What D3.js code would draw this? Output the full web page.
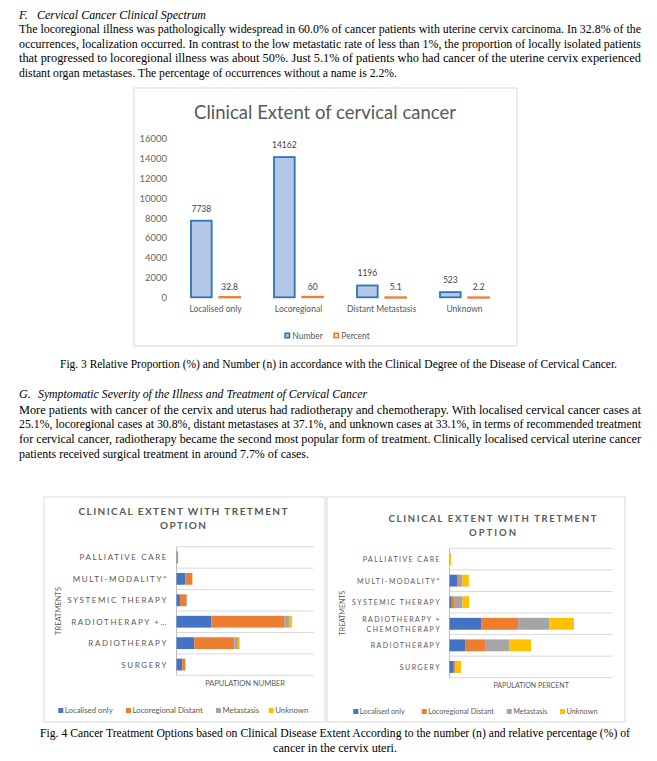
<!DOCTYPE html>
<html><head><meta charset="utf-8">
<script src="https://cdn.jsdelivr.net/npm/d3@7"></script>
<style>body{margin:0;background:#fff;} svg{display:block;}</style>
</head><body>
<script>
// ---------------- data ----------------
const headingF = ["F.", "Cervical Cancer Clinical Spectrum"];
const para1 = [
  "The locoregional illness was pathologically widespread in 60.0% of cancer patients with uterine cervix carcinoma. In 32.8% of the",
  "occurrences, localization occurred. In contrast to the low metastatic rate of less than 1%, the proportion of locally isolated patients",
  "that progressed to locoregional illness was about 50%. Just 5.1% of patients who had cancer of the uterine cervix experienced",
  "distant organ metastases. The percentage of occurrences without a name is 2.2%."
];
const fig3Caption = "Fig. 3 Relative Proportion (%) and Number (n) in accordance with the Clinical Degree of the Disease of Cervical Cancer.";
const headingG = ["G.", "Symptomatic Severity of the Illness and Treatment of Cervical Cancer"];
const para2 = [
  "More patients with cancer of the cervix and uterus had radiotherapy and chemotherapy. With localised cervical cancer cases at",
  "25.1%, locoregional cases at 30.8%, distant metastases at 37.1%, and unknown cases at 33.1%, in terms of recommended treatment",
  "for cervical cancer, radiotherapy became the second most popular form of treatment. Clinically localised cervical uterine cancer",
  "patients received surgical treatment in around 7.7% of cases."
];
const fig4Caption = [
  "Fig. 4 Cancer Treatment Options based on Clinical Disease Extent According to the number (n) and relative percentage (%) of",
  "cancer in the cervix uteri."
];

const extentTitle = "Clinical Extent of cervical cancer";
const extentCategories = ["Localised only", "Locoregional", "Distant Metastasis", "Unknown"];
const extentSeries = ["Number", "Percent"];
const extentNumber = [7738, 14162, 1196, 523];
const extentPercent = [32.8, 60, 5.1, 2.2];
const extentTicks = [0, 2000, 4000, 6000, 8000, 10000, 12000, 14000, 16000];

const stackTitle = ["CLINICAL EXTENT WITH TRETMENT", "OPTION"];
const treatments = ["PALLIATIVE CARE", "MULTI-MODALITY*", "SYSTEMIC THERAPY", "RADIOTHERAPY + CHEMOTHERAPY", "RADIOTHERAPY", "SURGERY"];
const stackSeries = ["Localised only", "Locoregional Distant", "Metastasis", "Unknown"];
// population number (left chart)
const numLocalised     = [15, 500, 190, 1942, 982, 316];
const numLocoregional  = [65, 372, 350, 4050, 2220, 166];
const numMetastasis    = [5, 8, 40, 278, 205, 5];
const numUnknown       = [5, 15, 15, 133, 90, 10];
// population percent (right chart)
const pctLocalised     = [0, 6.4, 1.8, 25.2, 12.4, 3.4];
const pctLocoregional  = [0, 1.8, 2.4, 29.5, 16.0, 1.0];
const pctMetastasis    = [0.2, 2.2, 6.1, 24.7, 19.1, 0.3];
const pctUnknown       = [1.0, 5.0, 5.3, 19.7, 17.5, 4.5];
const numAxisTitle = "PAPULATION NUMBER";
const pctAxisTitle = "PAPULATION PERCENT";
const yAxisTitle = "TREATMENTS";

// ---------------- drawing ----------------
const SERIF = "'Liberation Serif','Times New Roman',serif";
const SANS = "Lato, Carlito, Calibri, sans-serif";
const svg = d3.select("body").append("svg").attr("width", 657).attr("height", 761);
svg.append("rect").attr("width", 657).attr("height", 761).attr("fill", "#fff");

function serif(txt, x, y, len, opt = {}) {
  const t = svg.append("text").attr("x", x).attr("y", y).text(txt)
    .attr("font-family", SERIF).attr("font-size", opt.size || 12).attr("fill", "#000");
  if (opt.italic) t.attr("font-style", "italic");
  if (opt.anchor) t.attr("text-anchor", opt.anchor);
  if (len) t.attr("textLength", len).attr("lengthAdjust", "spacingAndGlyphs");
  return t;
}

// Section F
serif(headingF[0], 19, 19, null, {italic: true});
serif(headingF[1], 37, 19, 169, {italic: true});
const p1Y = [33, 48, 62, 77];
para1.forEach((l, i) => serif(l, 19, p1Y[i], i < para1.length - 1 ? 622 : 378));

// Figure 3 chart
(function () {
  const g = svg.append("g");
  g.append("rect").attr("x", 134).attr("y", 88).attr("width", 383).attr("height", 258)
    .attr("fill", "#fff").attr("stroke", "#d9d9d9");
  g.append("text").attr("x", 325).attr("y", 119).attr("text-anchor", "middle")
    .attr("font-family", SANS).attr("font-size", 18.5).attr("fill", "#595959").text(extentTitle);

  const y = d3.scaleLinear().domain([0, 16000]).range([297.3, 138.9]);
  const x0 = d3.scaleBand().domain(extentCategories).range([174, 506]);
  const x1 = d3.scaleBand().domain(extentSeries).range([17, 66]).paddingInner(0.27);

  const yAxis = g.append("g").attr("transform", "translate(167,0)")
    .call(d3.axisLeft(y).tickValues(extentTicks).tickSize(0).tickPadding(0).tickFormat(d3.format("d")));
  yAxis.select(".domain").remove();
  yAxis.selectAll("text").attr("font-family", SANS).attr("font-size", 9.5).attr("fill", "#666");

  const fills = {Number: "#b4c7e7", Percent: "#fbe5d6"};
  const strokes = {Number: "#2e75b6", Percent: "#ed7d31"};
  const rows = extentCategories.map((c, i) => ({cat: c, Number: extentNumber[i], Percent: extentPercent[i]}));
  const grp = g.selectAll("g.cat").data(rows).enter().append("g")
    .attr("transform", d => `translate(${x0(d.cat)},0)`);
  grp.selectAll("rect").data(d => extentSeries.map(s => ({s, v: d[s]}))).enter().append("rect")
    .attr("x", d => x1(d.s)).attr("width", x1.bandwidth())
    .attr("y", d => y(d.v)).attr("height", d => Math.max(0.5, y(0) - y(d.v)))
    .attr("fill", d => fills[d.s]).attr("stroke", d => strokes[d.s]).attr("stroke-width", 1.8);
  grp.selectAll("text").data(d => extentSeries.map(s => ({s, v: d[s]}))).enter().append("text")
    .attr("x", d => x1(d.s) + x1.bandwidth() / 2)
    .attr("y", d => y(d.v) - (d.s === "Number" ? 9 : 7))
    .attr("text-anchor", "middle").attr("font-family", SANS).attr("font-size", 8.5)
    .attr("fill", "#404040").text(d => d.v);

  const xAxis = g.append("g").attr("transform", "translate(0,306)")
    .call(d3.axisBottom(x0).tickSize(0).tickPadding(0));
  xAxis.select(".domain").remove();
  xAxis.selectAll("text").attr("font-family", SANS).attr("font-size", 8.5).attr("fill", "#595959");

  const legX = [284.3, 333.3];
  extentSeries.forEach((s, i) => {
    g.append("rect").attr("x", legX[i] + 0.8).attr("y", 333.3).attr("width", 4.4).attr("height", 4.4)
      .attr("fill", fills[s]).attr("stroke", strokes[s]).attr("stroke-width", 1.6);
    g.append("text").attr("x", legX[i] + 8).attr("y", 339).attr("font-family", SANS)
      .attr("font-size", 8.5).attr("fill", "#595959").text(s);
  });
})();

serif(fig3Caption, 60, 368, 557);

// Section G
serif(headingG[0], 19, 398, null, {italic: true});
serif(headingG[1], 38, 398, 329, {italic: true});
const p2Y = [414, 428, 443, 458];
para2.forEach((l, i) => serif(l, 19, p2Y[i], i < para2.length - 1 ? 622 : 290));

// Figure 4 charts
const stackColors = ["#4472c4", "#ed7d31", "#a5a5a5", "#ffc000"];
function stackChart(cfg) {
  const g = svg.append("g");
  g.append("rect").attr("x", cfg.box[0]).attr("y", cfg.box[1]).attr("width", cfg.box[2]).attr("height", cfg.box[3])
    .attr("fill", "#fff").attr("stroke", "#d9d9d9");
  stackTitle.forEach((t, i) => {
    g.append("text").attr("x", cfg.titleX).attr("y", cfg.titleY[i]).attr("text-anchor", "middle")
      .attr("font-family", SANS).attr("font-weight", "bold").attr("font-size", cfg.titleSize)
      .attr("fill", "#595959").attr("textLength", cfg.titleLen[i]).attr("lengthAdjust", "spacing").text(t);
  });
  const data = treatments.map((t, i) => {
    const o = {t};
    stackSeries.forEach((s, j) => o[s] = cfg.values[j][i]);
    return o;
  });
  const stacked = d3.stack().keys(stackSeries)(data);
  const x = d3.scaleLinear().domain([0, cfg.max]).range([cfg.x0, cfg.x1]);
  const y = d3.scaleBand().domain(treatments).range([cfg.y0, cfg.y1]).paddingInner(0.45).paddingOuter(0.225);
  const step = y.step();
  d3.range(treatments.length + 1).forEach(k => {
    const yy = cfg.y0 + k * step;
    g.append("line").attr("x1", cfg.x0).attr("x2", cfg.x1).attr("y1", yy).attr("y2", yy)
      .attr("stroke", "#d9d9d9").attr("stroke-width", 1);
  });
  g.append("line").attr("x1", cfg.x0).attr("x2", cfg.x0).attr("y1", cfg.y0).attr("y2", cfg.y1)
    .attr("stroke", "#bfbfbf").attr("stroke-width", 1);
  stacked.forEach((layer, j) => {
    g.append("g").attr("fill", stackColors[j]).selectAll("rect").data(layer).enter().append("rect")
      .attr("x", d => x(d[0])).attr("width", d => Math.max(0, x(d[1]) - x(d[0])))
      .attr("y", d => y(d.data.t)).attr("height", y.bandwidth());
  });
  treatments.forEach(t => {
    const cy = y(t) + y.bandwidth() / 2;
    const lines = cfg.labelLines(t);
    const tx = g.append("text").attr("text-anchor", "end").attr("font-family", SANS)
      .attr("font-size", cfg.labelSize).attr("fill", "#595959").attr("letter-spacing", cfg.labelSpacing);
    lines.forEach((ln, k) => {
      tx.append("tspan").attr("x", cfg.labelX)
        .attr("y", cy + 3 + (k - (lines.length - 1) / 2) * cfg.labelLineH).text(ln);
    });
  });
  g.append("text").attr("x", (cfg.x0 + cfg.x1) / 2).attr("y", cfg.xTitleY).attr("text-anchor", "middle")
    .attr("font-family", SANS).attr("font-size", cfg.axisTitleSize).attr("fill", "#595959").text(cfg.xTitle);
  g.append("text").attr("transform", `translate(${cfg.yTitleX},${(cfg.y0 + cfg.y1) / 2}) rotate(-90)`)
    .attr("text-anchor", "middle").attr("font-family", SANS).attr("font-size", cfg.axisTitleSize)
    .attr("fill", "#595959").text(yAxisTitle);
  stackSeries.forEach((s, j) => {
    g.append("rect").attr("x", cfg.legX[j]).attr("y", cfg.legY - 3.5).attr("width", 5).attr("height", 5)
      .attr("fill", stackColors[j]);
    g.append("text").attr("x", cfg.legX[j] + 6.5).attr("y", cfg.legY + 1.5).attr("font-family", SANS)
      .attr("font-size", cfg.legSize).attr("fill", "#595959").text(s);
  });
}

stackChart({
  box: [44, 497, 281, 225], titleX: 183, titleY: [515, 529], titleSize: 10, titleLen: [209, 46],
  values: [numLocalised, numLocoregional, numMetastasis, numUnknown], max: 7600,
  x0: 176.5, x1: 313.7, y0: 546.7, y1: 675.3,
  labelX: 168, labelSize: 8, labelSpacing: 1.6, labelLineH: 10,
  labelLines: t => [t.length > 18 ? t.slice(0, 14) + "…" : t],
  xTitle: numAxisTitle, xTitleY: 686, yTitleX: 61, axisTitleSize: 7.5,
  legX: [58.3, 126, 216, 268.7], legY: 711.5, legSize: 7.8
});
stackChart({
  box: [327, 497, 298, 225], titleX: 492.5, titleY: [522, 535.5], titleSize: 9.5, titleLen: [208, 47],
  values: [pctLocalised, pctLocoregional, pctMetastasis, pctUnknown], max: 130,
  x0: 449.5, x1: 612.7, y0: 548.3, y1: 677.7,
  labelX: 441, labelSize: 7, labelSpacing: 1.45, labelLineH: 10,
  labelLines: t => t.includes(" + ") ? [t.split(" + ")[0] + " +", t.split(" + ")[1]] : [t],
  xTitle: pctAxisTitle, xTitleY: 688, yTitleX: 345, axisTitleSize: 7,
  legX: [353.3, 421.7, 506.7, 560], legY: 712.5, legSize: 7.3
});

serif(fig4Caption[0], 40, 737, 590);
serif(fig4Caption[1], 335, 752, 124, {anchor: "middle"});
</script>
</body></html>
